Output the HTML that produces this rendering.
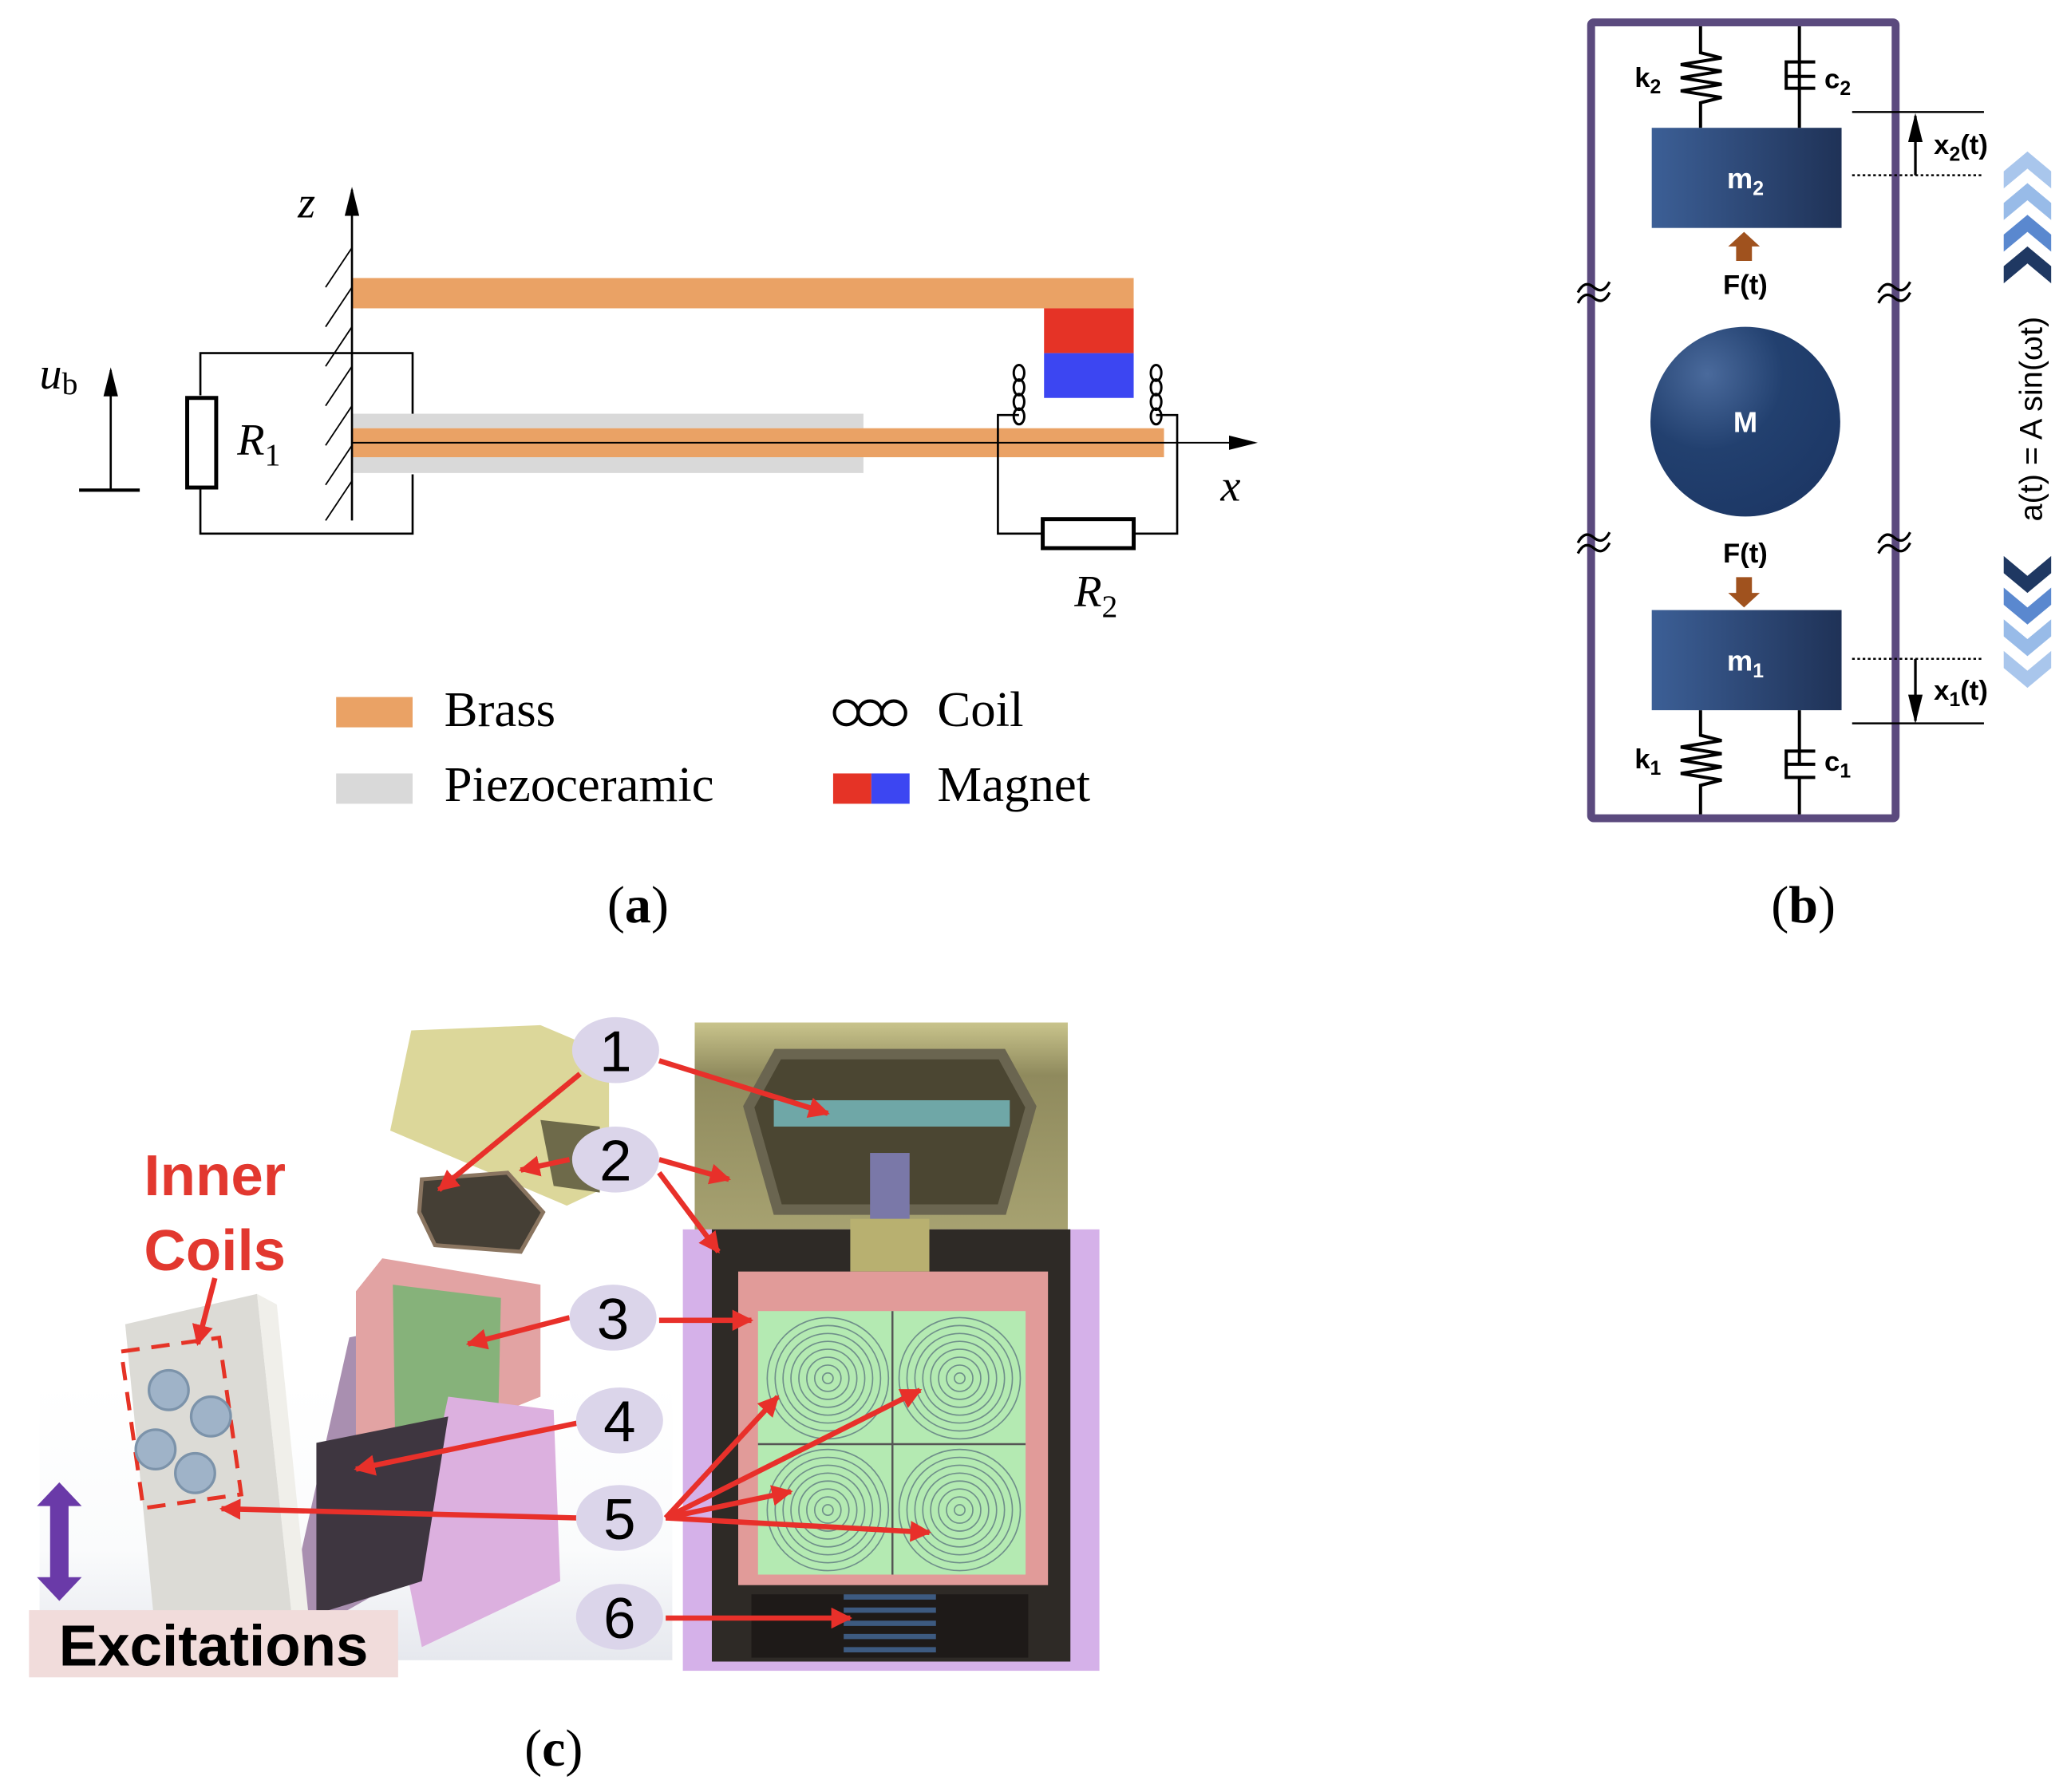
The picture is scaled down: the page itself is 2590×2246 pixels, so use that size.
<!DOCTYPE html>
<html><head><meta charset="utf-8"><style>
html,body{margin:0;padding:0;background:#fff;}
svg{display:block;}
.serif{font-family:"Liberation Serif",serif;}
.sans{font-family:"Liberation Sans","DejaVu Sans",sans-serif;}
</style></head><body>
<svg width="2590" height="2246" viewBox="0 0 1568 1360" preserveAspectRatio="none" xmlns="http://www.w3.org/2000/svg">
<defs>
<marker id="ab" viewBox="0 0 10 10" refX="9" refY="5" markerWidth="10" markerHeight="10" markerUnits="userSpaceOnUse" orient="auto-start-reverse"><path d="M0,2 L10,5 L0,8 z" fill="#000"/></marker>
<marker id="abL" viewBox="0 0 10 10" refX="9" refY="5" markerWidth="22" markerHeight="22" markerUnits="userSpaceOnUse" orient="auto"><path d="M0,2.5 L10,5 L0,7.5 z" fill="#000"/></marker>
<marker id="ar" viewBox="0 0 10 10" refX="9" refY="5" markerWidth="4" markerHeight="4" orient="auto"><path d="M0,0 L10,5 L0,10 z" fill="#e8302a"/></marker>
<linearGradient id="mg" x1="0" x2="1"><stop offset="0" stop-color="#3c5f96"/><stop offset="1" stop-color="#1f3257"/></linearGradient>
<radialGradient id="cg" cx="0.3" cy="0.25" r="0.8"><stop offset="0" stop-color="#4a6a9c"/><stop offset="0.5" stop-color="#22406f"/><stop offset="1" stop-color="#1d3866"/></radialGradient>
<linearGradient id="olive" x1="0" y1="0" x2="0" y2="1"><stop offset="0" stop-color="#c9c48c"/><stop offset="0.25" stop-color="#8f8a5d"/><stop offset="1" stop-color="#a7a271"/></linearGradient>
<linearGradient id="floor" x1="0" y1="0" x2="0" y2="1"><stop offset="0" stop-color="#fff"/><stop offset="0.6" stop-color="#fafbfc"/><stop offset="1" stop-color="#e6e8ee"/></linearGradient>
</defs>

<!-- ========== (a) ========== -->
<g stroke="#000" fill="none" stroke-width="1.6">
  <g stroke-width="1.1">
    <line x1="247" y1="218" x2="267" y2="188"/><line x1="247" y1="248" x2="267" y2="218"/>
    <line x1="247" y1="278" x2="267" y2="248"/><line x1="247" y1="308" x2="267" y2="278"/>
    <line x1="247" y1="338" x2="267" y2="308"/><line x1="247" y1="368" x2="267" y2="338"/>
    <line x1="247" y1="395" x2="267" y2="365"/>
  </g>
  <polyline points="152,300 152,268 313,268 313,315"/>
  <polyline points="152,370 152,405 313,405 313,360"/>
</g>
<rect x="267" y="211" width="593" height="23" fill="#eaa265"/>
<rect x="792" y="234" width="68" height="34" fill="#e53326"/>
<rect x="792" y="268" width="68" height="34" fill="#3c46f2"/>
<rect x="267" y="314" width="388" height="11" fill="#d9d9d9"/>
<rect x="267" y="347" width="388" height="12" fill="#d9d9d9"/>
<rect x="267" y="325" width="616" height="22" fill="#eaa265"/>
<g stroke="#000" fill="none" stroke-width="1.6">
  <line x1="267" y1="395" x2="267" y2="144" marker-end="url(#abL)"/>
  <line x1="267" y1="336" x2="952" y2="336" stroke-width="1.2" marker-end="url(#abL)"/>
  <rect x="142" y="302" width="22" height="68" fill="#fff" stroke-width="3"/>
  <line x1="84" y1="372" x2="84" y2="281" marker-end="url(#abL)"/>
  <line x1="60" y1="372" x2="106" y2="372" stroke-width="2.5"/>
  <polyline points="773,315 757,315 757,405 790,405"/>
  <polyline points="877,315 893,315 893,405 860,405"/>
  <rect x="791" y="394" width="69" height="22" fill="#fff" stroke-width="3"/>
  <g stroke-width="1.8">
    <ellipse cx="773" cy="283" rx="4" ry="6"/><ellipse cx="773" cy="294" rx="4" ry="6"/><ellipse cx="773" cy="305" rx="4" ry="6"/><ellipse cx="773" cy="316" rx="4" ry="6"/>
    <ellipse cx="877" cy="283" rx="4" ry="6"/><ellipse cx="877" cy="294" rx="4" ry="6"/><ellipse cx="877" cy="305" rx="4" ry="6"/><ellipse cx="877" cy="316" rx="4" ry="6"/>
  </g>
</g>
<g class="serif" font-style="italic" font-size="34" fill="#000">
  <text x="226" y="165">z</text>
  <text x="926" y="380">x</text>
  <text x="30" y="295">u<tspan font-style="normal" font-size="24" dy="4">b</tspan></text>
  <text x="180" y="345">R<tspan font-style="normal" font-size="24" dy="8">1</tspan></text>
  <text x="815" y="460">R<tspan font-style="normal" font-size="24" dy="8">2</tspan></text>
</g>
<rect x="255" y="529" width="58" height="23" fill="#eaa265"/>
<rect x="255" y="587" width="58" height="23" fill="#d9d9d9"/>
<g fill="none" stroke="#000" stroke-width="2.5"><circle cx="642" cy="541" r="9"/><circle cx="660" cy="541" r="9"/><circle cx="678" cy="541" r="9"/></g>
<rect x="632" y="587" width="29" height="23" fill="#e53326"/><rect x="661" y="587" width="29" height="23" fill="#3c46f2"/>
<g class="serif" font-size="38" fill="#000">
  <text x="337" y="551">Brass</text>
  <text x="337" y="608">Piezoceramic</text>
  <text x="711" y="551">Coil</text>
  <text x="711" y="608">Magnet</text>
  <text x="484" y="700" text-anchor="middle" font-size="40">(<tspan font-weight="bold">a</tspan>)</text>
  <text x="1368" y="700" text-anchor="middle" font-size="40">(<tspan font-weight="bold">b</tspan>)</text>
  <text x="420" y="1340" text-anchor="middle" font-size="40">(<tspan font-weight="bold">c</tspan>)</text>
</g>

<!-- ========== (b) ========== -->
<rect x="1207" y="17" width="231" height="604" fill="none" stroke="#5b4a7e" stroke-width="6" rx="2"/>
<g stroke="#000" fill="none" stroke-width="2.4">
  <polyline points="1290,20 1290,40 1306,44 1275,49 1306,54 1275,59 1306,64 1275,69 1306,74 1290,78 1290,97"/>
  <line x1="1365" y1="20" x2="1365" y2="58"/>
  <polyline points="1377,47 1355,47 1355,67 1377,67"/>
  <line x1="1355" y1="58" x2="1377" y2="58"/><line x1="1365" y1="58" x2="1365" y2="97"/>
  <polyline points="1290,539 1290,558 1306,562 1275,567 1306,572 1275,577 1306,582 1275,587 1306,592 1290,596 1290,618"/>
  <line x1="1365" y1="539" x2="1365" y2="580"/>
  <polyline points="1377,570 1355,570 1355,590 1377,590"/>
  <line x1="1355" y1="580" x2="1377" y2="580"/><line x1="1365" y1="590" x2="1365" y2="618"/>
  <line x1="1405" y1="85" x2="1505" y2="85" stroke-width="1.5"/>
  <line x1="1405" y1="133" x2="1505" y2="133" stroke-width="1.5" stroke-dasharray="2,2"/>
  <line x1="1453" y1="133" x2="1453" y2="88" stroke-width="2" marker-end="url(#abL)"/>
  <line x1="1405" y1="500" x2="1505" y2="500" stroke-width="1.5" stroke-dasharray="2,2"/>
  <line x1="1405" y1="549" x2="1505" y2="549" stroke-width="1.5"/>
  <line x1="1453" y1="500" x2="1453" y2="547" stroke-width="2" marker-end="url(#abL)"/>
  <path d="M1197,222 q5,-10 12,-4 t12,-4 M1197,230 q5,-10 12,-4 t12,-4" stroke-width="2"/>
  <path d="M1425,222 q5,-10 12,-4 t12,-4 M1425,230 q5,-10 12,-4 t12,-4" stroke-width="2"/>
  <path d="M1197,412 q5,-10 12,-4 t12,-4 M1197,420 q5,-10 12,-4 t12,-4" stroke-width="2"/>
  <path d="M1425,412 q5,-10 12,-4 t12,-4 M1425,420 q5,-10 12,-4 t12,-4" stroke-width="2"/>
</g>
<rect x="1253" y="97" width="144" height="76" fill="url(#mg)"/>
<rect x="1253" y="463" width="144" height="76" fill="url(#mg)"/>
<ellipse cx="1324" cy="320" rx="72" ry="72" fill="url(#cg)"/>
<path d="M1323,176 L1335,187 L1329,187 L1329,198 L1317,198 L1317,187 L1311,187 z" fill="#a0521e"/>
<path d="M1323,461 L1335,450 L1329,450 L1329,438 L1317,438 L1317,450 L1311,450 z" fill="#a0521e"/>
<g class="sans" font-weight="bold" fill="#fff" text-anchor="middle">
  <text x="1324" y="143" font-size="22">m<tspan font-size="15" dy="5">2</tspan></text>
  <text x="1324" y="509" font-size="22">m<tspan font-size="15" dy="5">1</tspan></text>
  <text x="1324" y="328" font-size="22">M</text>
</g>
<g class="sans" font-weight="bold" fill="#000" font-size="21">
  <text x="1324" y="223" text-anchor="middle">F(t)</text>
  <text x="1324" y="427" text-anchor="middle">F(t)</text>
  <text x="1240" y="66">k<tspan font-size="15" dy="5">2</tspan></text>
  <text x="1384" y="67">c<tspan font-size="15" dy="5">2</tspan></text>
  <text x="1240" y="583">k<tspan font-size="15" dy="5">1</tspan></text>
  <text x="1384" y="585">c<tspan font-size="15" dy="5">1</tspan></text>
  <text x="1467" y="117">x<tspan font-size="15" dy="5">2</tspan><tspan dy="-5">(t)</tspan></text>
  <text x="1467" y="531">x<tspan font-size="15" dy="5">1</tspan><tspan dy="-5">(t)</tspan></text>
</g>
<text class="sans" font-size="24" fill="#000" text-anchor="middle" transform="translate(1549,318) rotate(-90)">a(t) = A sin(ωt)</text>
<g>
  <path d="M1520,130 L1538,115 L1556,130 L1556,143 L1538,128 L1520,143 z" fill="#a9c6ec"/>
  <path d="M1520,154 L1538,139 L1556,154 L1556,167 L1538,152 L1520,167 z" fill="#98bbe8"/>
  <path d="M1520,178 L1538,163 L1556,178 L1556,191 L1538,176 L1520,191 z" fill="#5a88cf"/>
  <path d="M1520,202 L1538,187 L1556,202 L1556,215 L1538,200 L1520,215 z" fill="#1f3862"/>
  <path d="M1520,422 L1538,437 L1556,422 L1556,435 L1538,450 L1520,435 z" fill="#1f3862"/>
  <path d="M1520,446 L1538,461 L1556,446 L1556,459 L1538,474 L1520,459 z" fill="#5a88cf"/>
  <path d="M1520,470 L1538,485 L1556,470 L1556,483 L1538,498 L1520,483 z" fill="#98bbe8"/>
  <path d="M1520,494 L1538,509 L1556,494 L1556,507 L1538,522 L1520,507 z" fill="#a9c6ec"/>
</g>

<!-- ========== (c) ========== -->
<rect x="30" y="1050" width="480" height="210" fill="url(#floor)"/>
<rect x="527" y="776" width="283" height="160" fill="url(#olive)"/>
<path d="M590,800 L760,800 L782,840 L760,918 L590,918 L568,840 z" fill="#4b4632" stroke="#6a6550" stroke-width="8"/>
<rect x="587" y="835" width="179" height="20" fill="#6fa7a7"/>
<rect x="660" y="875" width="30" height="60" fill="#7a78a8"/>
<rect x="518" y="933" width="316" height="335" fill="#d5b1e9"/>
<rect x="540" y="933" width="272" height="328" fill="#2e2a26"/>
<rect x="645" y="925" width="60" height="40" fill="#b8b070"/>
<rect x="560" y="965" width="235" height="238" fill="#e19b99"/>
<rect x="575" y="995" width="203" height="200" fill="#b4eab2"/>
<g fill="none" stroke="#6f8f8a" stroke-width="1">
  <g id="sp"><circle cx="628" cy="1046" r="46"/><circle cx="628" cy="1046" r="40"/><circle cx="628" cy="1046" r="34"/><circle cx="628" cy="1046" r="28"/><circle cx="628" cy="1046" r="22"/><circle cx="628" cy="1046" r="16"/><circle cx="628" cy="1046" r="10"/><circle cx="628" cy="1046" r="4"/></g>
  <use href="#sp" x="100"/><use href="#sp" y="100"/><use href="#sp" x="100" y="100"/>
  <line x1="677" y1="995" x2="677" y2="1195" stroke="#555" stroke-width="1.5"/>
  <line x1="575" y1="1096" x2="778" y2="1096" stroke="#555" stroke-width="1.5"/>
</g>
<rect x="570" y="1210" width="210" height="48" fill="#1e1a18"/>
<g stroke="#3d5a80" stroke-width="4"><line x1="640" y1="1212" x2="710" y2="1212"/><line x1="640" y1="1222" x2="710" y2="1222"/><line x1="640" y1="1232" x2="710" y2="1232"/><line x1="640" y1="1242" x2="710" y2="1242"/><line x1="640" y1="1252" x2="710" y2="1252"/></g>
<!-- middle exploded -->
<path d="M312,782 L410,778 L462,800 L462,900 L430,915 L296,858 z" fill="#dcd79a"/>
<path d="M410,850 L455,855 L455,905 L420,900 z" fill="#6e6a4a"/>
<path d="M320,895 L385,890 L412,920 L395,950 L330,945 L318,920 z" fill="#453f35" stroke="#8a7560" stroke-width="3"/>
<path d="M265,1015 L315,1005 L320,1190 L232,1240 L228,1180 z" fill="#a98fb0"/>
<path d="M290,955 L410,975 L410,1060 L360,1080 L270,1120 L270,980 z" fill="#e2a3a3"/>
<path d="M298,975 L380,985 L378,1075 L300,1110 z" fill="#86b27a"/>
<path d="M340,1060 L420,1070 L425,1200 L320,1250 L310,1200 z" fill="#dcb0df"/>
<path d="M240,1095 L340,1075 L320,1200 L240,1225 z" fill="#3e3640"/>
<path d="M95,1005 L195,982 L222,1232 L120,1262 z" fill="#dcdbd6"/>
<path d="M195,982 L210,990 L235,1235 L222,1232 z" fill="#f0efea"/>
<rect x="100" y="1020" width="75" height="120" fill="none" stroke="#e53326" stroke-width="3" stroke-dasharray="14,9" transform="rotate(-8 137 1080)"/>
<g fill="#9fb3c8" stroke="#7c93aa" stroke-width="2"><circle cx="128" cy="1055" r="15"/><circle cx="160" cy="1075" r="15"/><circle cx="118" cy="1100" r="15"/><circle cx="148" cy="1118" r="15"/></g>
<g class="sans" font-weight="bold">
  <text x="163" y="907" font-size="44" fill="#e2382f" text-anchor="middle">Inner</text>
  <text x="163" y="964" font-size="44" fill="#e2382f" text-anchor="middle">Coils</text>
  <rect x="22" y="1222" width="280" height="51" fill="#f1dcdb"/>
  <text x="162" y="1264" font-size="44" fill="#000" text-anchor="middle">Excitations</text>
</g>
<path d="M45,1125 L62,1143 L52,1143 L52,1197 L62,1197 L45,1215 L28,1197 L38,1197 L38,1143 L28,1143 z" fill="#6a3aa8"/>
<g stroke="#e8302a" stroke-width="4" fill="none" marker-end="url(#ar)">
  <line x1="500" y1="805" x2="628" y2="845"/>
  <line x1="440" y1="815" x2="333" y2="903"/>
  <line x1="432" y1="880" x2="395" y2="888"/>
  <line x1="500" y1="880" x2="553" y2="895"/>
  <line x1="500" y1="890" x2="545" y2="950"/>
  <line x1="432" y1="1000" x2="355" y2="1020"/>
  <line x1="500" y1="1002" x2="570" y2="1002"/>
  <line x1="438" y1="1080" x2="270" y2="1115"/>
  <line x1="438" y1="1152" x2="168" y2="1145"/>
  <line x1="505" y1="1152" x2="590" y2="1060"/>
  <line x1="505" y1="1152" x2="698" y2="1055"/>
  <line x1="505" y1="1152" x2="600" y2="1132"/>
  <line x1="505" y1="1152" x2="705" y2="1163"/>
  <line x1="505" y1="1228" x2="645" y2="1228"/>
  <line x1="163" y1="970" x2="150" y2="1020"/>
</g>
<g fill="#dbd5ea">
  <ellipse cx="467" cy="797" rx="33" ry="25"/><ellipse cx="467" cy="880" rx="33" ry="25"/>
  <ellipse cx="465" cy="1000" rx="33" ry="25"/><ellipse cx="470" cy="1078" rx="33" ry="25"/>
  <ellipse cx="470" cy="1152" rx="33" ry="25"/><ellipse cx="470" cy="1227" rx="33" ry="25"/>
</g>
<g class="sans" font-size="44" fill="#000" text-anchor="middle">
  <text x="467" y="813">1</text><text x="467" y="896">2</text><text x="465" y="1016">3</text>
  <text x="470" y="1094">4</text><text x="470" y="1168">5</text><text x="470" y="1243">6</text>
</g>
</svg>
</body></html>
